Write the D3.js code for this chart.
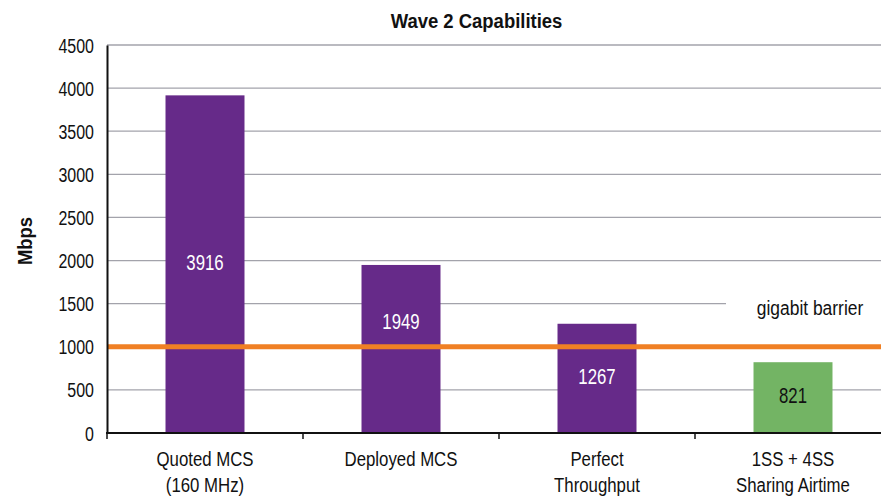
<!DOCTYPE html>
<html>
<head>
<meta charset="utf-8">
<script src="https://cdn.jsdelivr.net/npm/d3@7"></script>
<style>
  html, body { margin: 0; padding: 0; background: #fff; }
  svg { display: block; font-family: "Liberation Sans", Arial, Helvetica, sans-serif; }
</style>
</head>
<body>
<svg id="chart" width="881" height="496"></svg>
<script>
// Chart data
const categories = [["Quoted MCS", "(160 MHz)"], ["Deployed MCS"], ["Perfect", "Throughput"], ["1SS + 4SS", "Sharing Airtime"]];
const values = [3916, 1949, 1267, 821];
const barColors = ["#662a89", "#662a89", "#662a89", "#73b464"];
const labelColors = ["#ffffff", "#ffffff", "#ffffff", "#111111"];
const yTicks = [0, 500, 1000, 1500, 2000, 2500, 3000, 3500, 4000, 4500];
const barrierValue = 1000;
const barrierLabel = "gigabit barrier";
const title = "Wave 2 Capabilities";
const yTitle = "Mbps";

const svg = d3.select("#chart");
const plotLeft = 107, plotRight = 891, plotTop = 45, plotBottom = 433;
const ink = "#111";

const x = d3.scaleBand().domain(d3.range(categories.length)).range([plotLeft, plotRight]).paddingInner(0).paddingOuter(0);
const y = d3.scaleLinear().domain([0, 4500]).range([plotBottom, plotTop]);
const barW = x.bandwidth() * 0.403;

// Condensed text: regular face squeezed horizontally around its anchor point
function condensed(parent, tx, ty, str, o) {
  const t = parent.append("text")
    .attr("transform", `translate(${tx},${ty})${o.rotate ? ` rotate(${o.rotate})` : ""} scale(${o.sx},1)`)
    .attr("text-anchor", o.anchor || "middle")
    .attr("font-size", o.size)
    .attr("font-weight", o.weight || "normal")
    .attr("fill", o.fill || ink)
    .text(str);
  return t;
}

// Gridlines
svg.append("g").selectAll("line").data(yTicks.filter(d => d > 0)).join("line")
  .attr("x1", plotLeft).attr("x2", 881)
  .attr("y1", d => y(d)).attr("y2", d => y(d))
  .attr("stroke", "#a3a3ab").attr("stroke-width", 1.3);

// Label box for the barrier annotation (hides the gridline behind it)
svg.append("rect").attr("x", 726).attr("y", y(1500) - 4).attr("width", 155).attr("height", 30).attr("fill", "#fff");
condensed(svg, 810, 315, barrierLabel, { size: 21, sx: 0.83 });

// Bars
svg.append("g").selectAll("rect").data(values).join("rect")
  .attr("x", (d, i) => x(i) + (x.bandwidth() - barW) / 2)
  .attr("width", barW)
  .attr("y", d => y(d))
  .attr("height", d => y(0) - y(d))
  .attr("fill", (d, i) => barColors[i]);

// Gigabit barrier line
svg.append("line").attr("x1", plotLeft).attr("x2", 881)
  .attr("y1", y(barrierValue)).attr("y2", y(barrierValue))
  .attr("stroke", "#f08024").attr("stroke-width", 5);

// Value labels, centred in each bar; nudged above the barrier line if they would overlap it
const valueLayer = svg.append("g");
values.forEach((d, i) => {
  const mid = (y(d) + y(0)) / 2;
  const cy = Math.abs(mid - y(barrierValue)) < 20 ? y(barrierValue) - 26 : mid - 2;
  condensed(valueLayer, x(i) + x.bandwidth() / 2, cy + 7.8, String(d), { size: 21.5, sx: 0.78, fill: labelColors[i] });
});

// Y axis
const yAxis = svg.append("g").attr("transform", `translate(${plotLeft},0)`)
  .call(d3.axisLeft(y).tickValues(yTicks).tickFormat(d3.format("d")).tickSize(0));
yAxis.select(".domain").attr("stroke", ink).attr("stroke-width", 2);
yAxis.selectAll(".tick text")
  .attr("x", 0).attr("dy", null)
  .attr("transform", "translate(-13,7) scale(0.82,1)")
  .attr("text-anchor", "end")
  .attr("font-size", 19.5).attr("fill", ink)
  .attr("font-family", "\"Liberation Sans\", Arial, sans-serif");

// X axis line and category separators
svg.append("line").attr("x1", plotLeft - 1).attr("x2", 881).attr("y1", plotBottom).attr("y2", plotBottom)
  .attr("stroke", ink).attr("stroke-width", 2);
svg.append("g").selectAll("line").data(d3.range(categories.length + 1)).join("line")
  .attr("x1", i => plotLeft + i * x.step()).attr("x2", i => plotLeft + i * x.step())
  .attr("y1", plotBottom).attr("y2", plotBottom + 6)
  .attr("stroke", ink).attr("stroke-width", 1.5);

// Category labels
const catLayer = svg.append("g");
categories.forEach((lines, i) => {
  lines.forEach((s, j) => condensed(catLayer, x(i) + x.bandwidth() / 2, 466 + j * 25.5, s, { size: 21, sx: 0.8 }));
});

// Title
condensed(svg, 476.5, 27.5, title, { size: 21, sx: 0.88, weight: "bold" });

// Y axis title
condensed(svg, 32, 241, yTitle, { size: 21, sx: 0.88, weight: "bold", rotate: -90 });
</script>
</body>
</html>
